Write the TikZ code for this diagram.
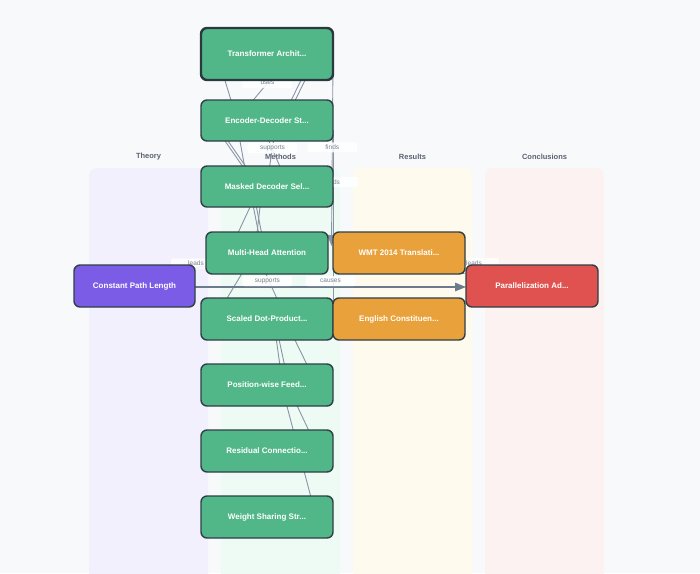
\documentclass[tikz,border=0pt]{standalone}
\usepackage{fontspec}
\setmainfont{Liberation Sans}
\usetikzlibrary{calc,arrows.meta}
\definecolor{bgc}{HTML}{F8F9FB}
\definecolor{laneT}{HTML}{F3F0FE}
\definecolor{laneM}{HTML}{EDFBF4}
\definecolor{laneR}{HTML}{FEFAEE}
\definecolor{laneC}{HTML}{FCF2F1}
\definecolor{hdr}{HTML}{5B6270}
\definecolor{nborder}{HTML}{2F3F45}
\definecolor{ngreen}{HTML}{52B788}
\definecolor{norange}{HTML}{E9A23B}
\definecolor{npurple}{HTML}{7B5CE6}
\definecolor{nred}{HTML}{DF524F}
\definecolor{edgec}{HTML}{8A94A5}
\definecolor{edgedark}{HTML}{6B7A8D}
\definecolor{lbltext}{HTML}{7A8290}
\tikzset{
  lane/.style={rounded corners=8pt, draw=none},
  hdrtext/.style={text=hdr, font=\bfseries\fontsize{7.5}{9}\selectfont},
  box/.style={rectangle, rounded corners=6pt, draw=nborder, line width=1.4pt, text=white,
    font=\bfseries\fontsize{8}{9}\selectfont, minimum height=42pt, minimum width=132pt, inner sep=0pt},
  gbox/.style={box, fill=ngreen},
  obox/.style={box, fill=norange},
  edge/.style={draw=edgec, line width=0.9pt},
  arr/.style={-{Triangle[length=11pt,width=8.5pt]}, draw=edgedark, line width=1.2pt},
  lbl/.style={fill=white, fill opacity=0.85, text opacity=1, text=lbltext, rounded corners=2pt,
    font=\fontsize{6.5}{7}\selectfont, minimum width=50pt, minimum height=10pt, inner sep=0pt}
}
\begin{document}
\begin{tikzpicture}[x=1pt,y=-1pt]
\useasboundingbox (0,0) rectangle (700,573);
\clip (0,0) rectangle (700,573);
\fill[bgc] (0,0) rectangle (700,573);
% lanes
\fill[lane, laneT] (89,168) rectangle (208,600);
\fill[lane, laneM] (221,168) rectangle (340,600);
\fill[lane, laneR] (353,168) rectangle (472,600);
\fill[lane, laneC] (485,168) rectangle (604,600);
\node[hdrtext] (hT) at (148.5,157) {Theory};
\node[hdrtext] (hM) at (280.5,157) {Methods};
\node[hdrtext] (hR) at (412.5,157) {Results};
\node[hdrtext] (hC) at (544.5,157) {Conclusions};
% node centres
\coordinate (ta) at (267,54);
\coordinate (ed) at (267,120.5);
\coordinate (md) at (267,186.5);
\coordinate (mh) at (267,253);
\coordinate (wmt) at (399,253);
\coordinate (cpl) at (134.5,286);
\coordinate (pa) at (532,286);
\coordinate (sd) at (267,319);
\coordinate (ec) at (399,319);
\coordinate (pw) at (267,385);
\coordinate (rc) at (267,451);
\coordinate (ws) at (267,517);
% edges
\draw[edge] ($(ta)+(-47,10)$) -- ($(ed)+(-27,9.5)$);
\draw[edge] ($(ta)+(18,8)$) -- node[lbl, pos=0.44] (l1) {uses} ($(ed)+(-22,-10.5)$);
\draw[edge] ($(ta)+(39,16)$) -- ($(ed)+(17,-5.5)$);
\draw[edge] ($(ta)+(43,16)$) -- ($(ed)+(21,-5.5)$);
\draw[edge] ($(ed)+(-53,4.5)$) -- ($(md)+(-8,3.5)$);
\draw[edge] ($(ed)+(-50,4.5)$) -- ($(md)+(-5,3.5)$);
\draw[edge] ($(ed)+(-29,9.5)$) -- ($(md)+(-20,-6.5)$);
\draw[edge] ($(ed)+(-5,4.5)$) -- ($(md)+(23,3.5)$);
\draw[edge] ($(md)+(-9,3.5)$) -- ($(mh)+(-37,-3)$);
\draw[edge] ($(md)+(-17,3.5)$) -- ($(mh)+(-5,-3)$);
\draw[edge] ($(md)+(-14,3.5)$) -- ($(mh)+(-2,-3)$);
\draw[edge] ($(md)+(-5,3.5)$) -- ($(mh)+(-12,-3)$);
\draw[edge] ($(mh)+(-17,7)$) -- ($(sd)+(-47,-9)$);
\draw[edge] ($(mh)+(-5,12)$) -- ($(sd)+(15,-9)$);
\draw[edge] ($(sd)+(8,11)$) -- ($(pw)+(17,10)$);
\draw[edge] ($(sd)+(10,11)$) -- ($(pw)+(24,10)$);
\draw[edge] ($(sd)+(23,11)$) -- ($(pw)+(50,0)$);
\draw[edge] ($(pw)+(17,10)$) -- ($(ws)+(46,-12)$);
\draw[edge] ($(pw)+(25,10)$) -- ($(rc)+(51,-1)$);
\draw[edge] ($(ed)+(66,9.5)$) -- node[lbl, pos=0.297] (l3) {finds} ($(ec)+(-66,-14)$);
\draw[arr, line width=0.9pt, draw=edgec] ($(ta)+(66,6)$) -- node[lbl, pos=0.47] (l2) {finds} ($(wmt)+(-67.5,-7)$);
\draw[edge] ($(ed)+(9,4.5)$) -- node[lbl, pos=0.354] (l4) {supports} ($(md)+(-1,3.5)$);
\draw[edge] ($(cpl)+(40,-15)$) -- ($(mh)+(-40,10)$);
\node[lbl] (l5) at (196,263.5) {leads};
\draw[arr] ($(wmt)+(40,10)$) -- ($(pa)+(-67,-12)$);
\node[lbl] (l6) at ($(pa)+(-58,-23)$) {leads};
\draw[arr] ($(cpl)+(60.5,1)$) -- node[lbl, pos=0.5, yshift=6pt] (l7) {causes}
   node[lbl, pos=0.267, yshift=6pt] (l8) {supports} ($(pa)+(-66,1)$);
% nodes
\node[gbox, line width=2.4pt, draw=nborder!90!black, minimum height=52pt] (nta) at (ta) {Transformer Archit...};
\node[gbox, minimum height=41pt] (ned) at (ed) {Encoder-Decoder St...};
\node[gbox, minimum height=41pt] (nmd) at (md) {Masked Decoder Sel...};
\node[gbox, minimum width=122pt] (nmh) at (mh) {Multi-Head Attention};
\node[obox] (nwmt) at (wmt) {WMT 2014 Translati...};
\node[box, fill=npurple, minimum width=121pt] (ncpl) at (cpl) {Constant Path Length};
\node[box, fill=nred] (npa) at (pa) {Parallelization Ad...};
\node[gbox] (nsd) at (sd) {Scaled Dot-Product...};
\node[obox] (nec) at (ec) {English Constituen...};
\node[gbox] (npw) at (pw) {Position-wise Feed...};
\node[gbox] (nrc) at (rc) {Residual Connectio...};
\node[gbox] (nws) at (ws) {Weight Sharing Str...};
\end{tikzpicture}
\end{document}
